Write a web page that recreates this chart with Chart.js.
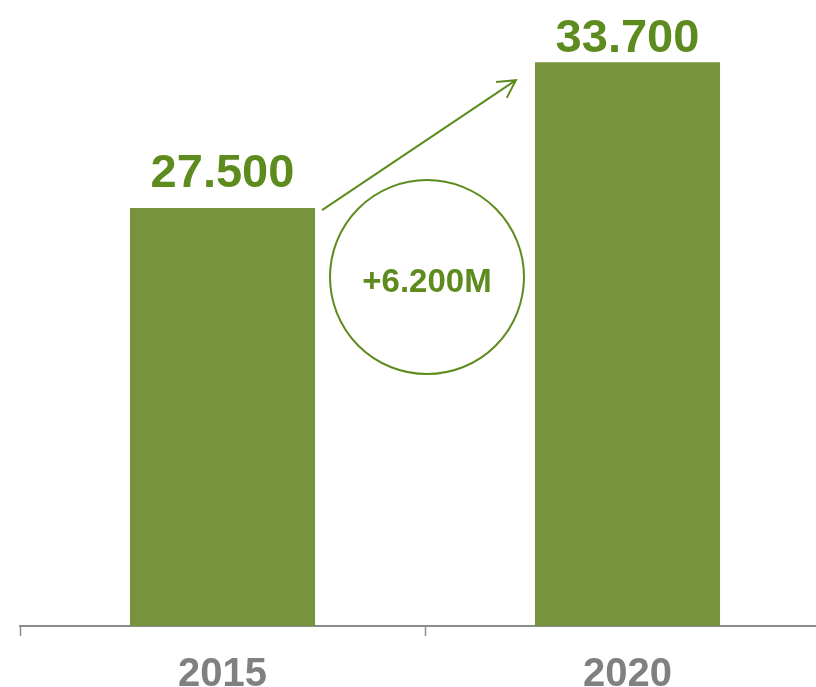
<!DOCTYPE html>
<html lang="de">
<head>
    <meta charset="UTF-8">
    <title>2015 vs 2020</title>
    <script src="https://cdn.jsdelivr.net/npm/chart.js@4.4.1/dist/chart.umd.min.js"></script>
    <style>
        html, body {
            margin: 0;
            padding: 0;
            background: #ffffff;
            overflow: hidden;
        }
        #chartBox {
            width: 830px;
            height: 687px;
        }
    </style>
</head>
<body>
    <div id="chartBox">
        <canvas id="growthChart"></canvas>
    </div>

    <script>
        // data
        const years = ['2015', '2020'];
        const values = [27500, 33700];

        const barColor = '#77933C';
        const textGreen = '#5E8B1E';
        const axisGray = '#8C8C8C';
        const labelGray = '#808080';

        const fmt = (v) => v.toLocaleString('de-DE');

        // value labels, arrow and the circle with the difference
        const overlayPlugin = {
            id: 'overlay',
            afterDatasetsDraw(chart) {
                const ctx = chart.ctx;
                const bars = chart.getDatasetMeta(0).data;
                const b1 = bars[0];
                const b2 = bars[1];

                ctx.save();
                ctx.fillStyle = textGreen;
                ctx.font = 'bold 47px "Liberation Sans", Arial, sans-serif';
                ctx.textAlign = 'center';
                ctx.textBaseline = 'alphabetic';
                bars.forEach((bar, i) => {
                    const y = Math.max(bar.y - 21, 52);
                    ctx.fillText(fmt(values[i]), bar.x, y);
                });

                // arrow
                const x1 = b1.x + b1.width / 2 + 7;
                const y1 = b1.y + 2;
                const x2 = b2.x - b2.width / 2 - 19;
                const y2 = b2.y + 18;
                ctx.strokeStyle = textGreen;
                ctx.lineWidth = 2;
                ctx.beginPath();
                ctx.moveTo(x1, y1);
                ctx.lineTo(x2, y2);
                const ang = Math.atan2(y2 - y1, x2 - x1);
                const head = 20;
                ctx.moveTo(x2 - head * Math.cos(ang - 0.5), y2 - head * Math.sin(ang - 0.5));
                ctx.lineTo(x2, y2);
                ctx.lineTo(x2 - head * Math.cos(ang + 0.5), y2 - head * Math.sin(ang + 0.5));
                ctx.stroke();

                // circle between the bars
                const cx = chart.scales.x.getPixelForValue(0.5) + 2;
                const cy = b1.y + 69;
                ctx.beginPath();
                ctx.arc(cx, cy, 97, 0, Math.PI * 2);
                ctx.stroke();

                ctx.font = 'bold 33px "Liberation Sans", Arial, sans-serif';
                ctx.textBaseline = 'middle';
                ctx.fillText('+' + fmt(values[1] - values[0]) + 'M', cx, cy + 6);
                ctx.restore();
            }
        };

        const ctx = document.getElementById('growthChart').getContext('2d');
        new Chart(ctx, {
            type: 'bar',
            data: {
                labels: years,
                datasets: [{
                    data: values,
                    backgroundColor: barColor,
                    borderWidth: 0,
                    barPercentage: 0.457,
                    categoryPercentage: 1.0
                }]
            },
            plugins: [overlayPlugin],
            options: {
                responsive: true,
                maintainAspectRatio: false,
                animation: false,
                layout: {
                    padding: { left: 20, right: 0, top: 8, bottom: 0 }
                },
                plugins: {
                    legend: { display: false },
                    tooltip: { enabled: false }
                },
                scales: {
                    x: {
                        offset: true,
                        grid: {
                            offset: true,
                            drawOnChartArea: false,
                            drawTicks: true,
                            tickLength: 10,
                            tickWidth: 1.5,
                            tickColor: axisGray
                        },
                        border: { color: axisGray, width: 2 },
                        ticks: {
                            color: labelGray,
                            padding: 15,
                            font: { family: '"Liberation Sans", Arial, sans-serif', size: 40, weight: 'bold' }
                        },
                        afterFit(scale) {
                            scale.height = 61;
                        }
                    },
                    y: {
                        display: false,
                        min: 9750,
                        max: 36000
                    }
                }
            }
        });
    </script>
</body>
</html>
